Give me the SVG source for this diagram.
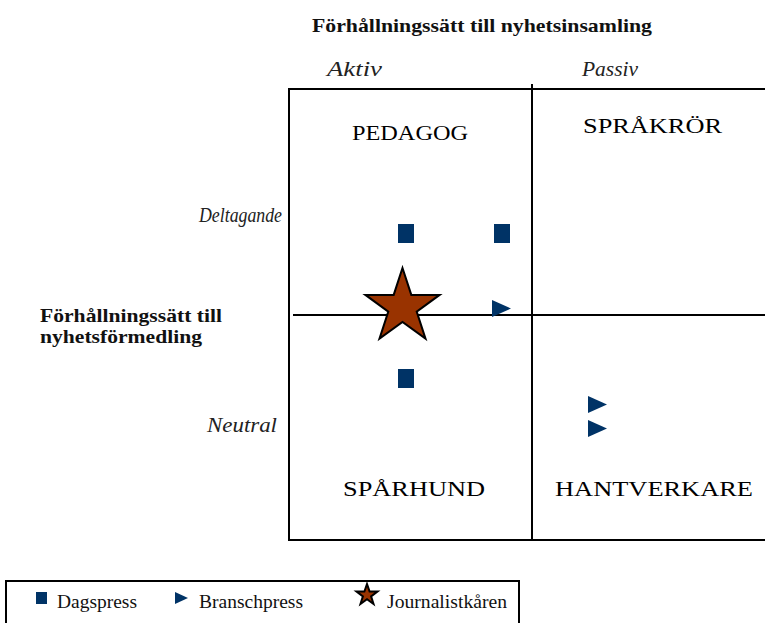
<svg xmlns="http://www.w3.org/2000/svg" width="765" height="623" viewBox="0 0 765 623" font-family="'Liberation Serif', 'DejaVu Serif', 'Times New Roman', serif">
<style>
  text{font-family:'Liberation Serif','DejaVu Serif','Times New Roman',serif}
  .hdr{font-weight:bold;font-size:19px;fill:#111}
  .ax{font-style:italic;font-size:21px;fill:#222}
  .axs{font-size:20px}
  .q{font-size:21px;fill:#000}
  .lg{font-size:18px;fill:#111}
  .frame{fill:none;stroke:#000;stroke-width:2}
  .sq{fill:#003366}
  .tri{fill:#003366}
  .star{fill:#993300;stroke:#000;stroke-width:2;stroke-linejoin:miter}
</style>
<defs>
  <rect id="sqm" x="-8" y="-9.5" width="16" height="19" class="sq"/>
  <polygon id="trim" points="-9,-8.5 10,0 -9,8.5" class="tri"/>
</defs>
<g id="headers">
  <text class="hdr" x="312" y="32" textLength="340" lengthAdjust="spacingAndGlyphs">Förhållningssätt till nyhetsinsamling</text>
  <text class="ax" x="327" y="76" textLength="55" lengthAdjust="spacingAndGlyphs">Aktiv</text>
  <text class="ax" x="582" y="76" textLength="56" lengthAdjust="spacingAndGlyphs">Passiv</text>
  <text class="ax axs" x="199" y="222" textLength="83" lengthAdjust="spacingAndGlyphs">Deltagande</text>
  <text class="ax axs" x="207" y="432" textLength="70" lengthAdjust="spacingAndGlyphs">Neutral</text>
  <text class="hdr" x="40" y="322" textLength="182" lengthAdjust="spacingAndGlyphs">Förhållningssätt till</text>
  <text class="hdr" x="40" y="343" textLength="162" lengthAdjust="spacingAndGlyphs">nyhetsförmedling</text>
</g>
<g id="grid">
  <polyline class="frame" points="765,89 289,89 289,540 765,540"/>
  <line class="frame" x1="532" y1="84" x2="532" y2="541"/>
  <line class="frame" x1="293" y1="315" x2="765" y2="315"/>
</g>
<g id="pedagog"><text class="q" x="352" y="140" textLength="116" lengthAdjust="spacingAndGlyphs">PEDAGOG</text></g>
<g id="sprakror"><text class="q" x="583" y="133" textLength="139" lengthAdjust="spacingAndGlyphs">SPRÅKRÖR</text></g>
<g id="sparhund"><text class="q" x="343" y="496" textLength="142" lengthAdjust="spacingAndGlyphs">SPÅRHUND</text></g>
<g id="hantverkare"><text class="q" x="555" y="496" textLength="198" lengthAdjust="spacingAndGlyphs">HANTVERKARE</text></g>
<g id="points">
  <use href="#sqm" x="406" y="233.5"/>
  <use href="#sqm" x="502" y="233.5"/>
  <use href="#sqm" x="406" y="378.5"/>
  <use href="#trim" x="501" y="308.5"/>
  <use href="#trim" x="597" y="404.5"/>
  <use href="#trim" x="597" y="428.5"/>
  <polygon class="star" points="402.5,268 411.3,294.9 439.6,294.9 416.7,311.6 425.5,338.6 402.5,321.9 379.5,338.6 388.3,311.6 365.4,294.9 393.7,294.9"/>
</g>
<g id="legend">
  <rect x="6" y="581" width="513" height="50" fill="none" stroke="#000" stroke-width="2"/>
  <rect x="36" y="592" width="11" height="12" class="sq"/>
  <text class="lg" x="57" y="608" textLength="80" lengthAdjust="spacingAndGlyphs">Dagspress</text>
  <polygon points="175,592 188,598 175,604" class="tri"/>
  <text class="lg" x="199" y="608" textLength="104" lengthAdjust="spacingAndGlyphs">Branschpress</text>
  <polygon class="star" stroke-width="1.5" points="367,584 369.6,591.6 377.5,591.6 371.1,596.4 373.5,604 367,599.3 360.5,604 362.9,596.4 356.5,591.6 364.4,591.6"/>
  <text class="lg" x="387" y="608" textLength="120" lengthAdjust="spacingAndGlyphs">Journalistkåren</text>
</g>
</svg>
